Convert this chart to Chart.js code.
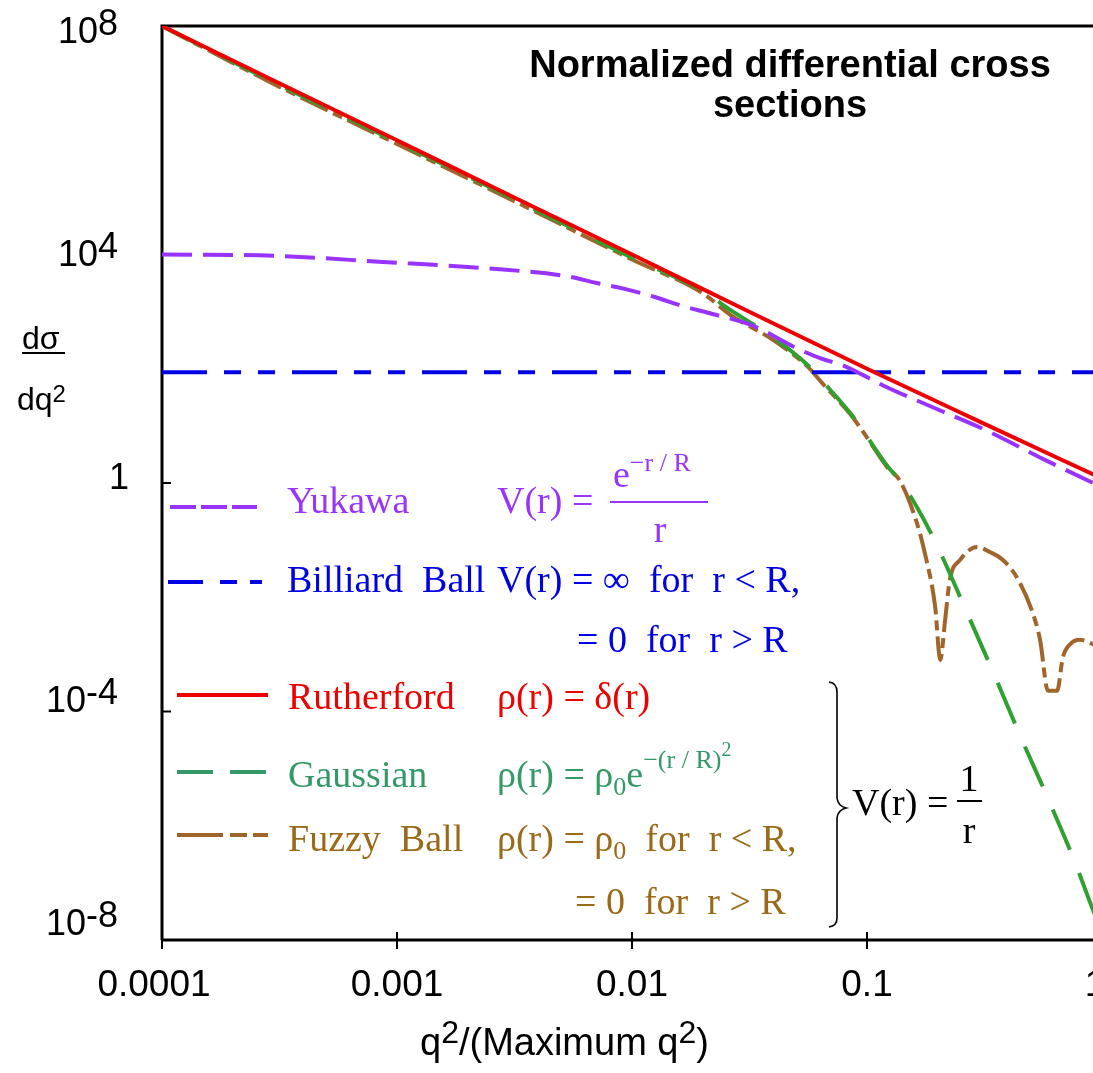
<!DOCTYPE html>
<html>
<head>
<meta charset="utf-8">
<title>Normalized differential cross sections</title>
<script src="https://cdn.jsdelivr.net/npm/chart.js@4.4.1/dist/chart.umd.min.js"></script>
<style>
  html, body { margin: 0; padding: 0; background: #fff; overflow: hidden; }
  canvas { display: block; }
</style>
</head>
<body>
<canvas id="chart" width="1120" height="1073"></canvas>
<script>
// x = q^2 / (maximum q^2), y = normalized d(sigma)/dq^2, both on log axes
const rutherfordX = [1e-4, 3e-4, 1e-3, 3e-3, 1e-2, 3e-2, 0.1, 0.3, 1];
const rutherfordY = [1e8, 1.1e7, 1.0e6, 1.1e5, 1.0e4, 1.1e3, 100, 12, 1.2];

const yukawaX = [1e-4, 3e-4, 8.7e-4, 2.3e-3, 5.4e-3, 7e-3, 9.3e-3, 1.25e-2, 1.63e-2, 2.2e-2,
  3.3e-2, 4.9e-2, 6.4e-2, 7.9e-2, 0.117, 0.205, 0.333, 0.545, 0.917, 1];
const yukawaY = [1.0e4, 9.5e3, 7.4e3, 5.8e3, 4.1e3, 3.2e3, 2.5e3, 1.8e3, 1.26e3, 910,
  560, 240, 150, 115, 51, 18.6, 7.8, 2.8, 1.0, 0.85];

const billiardX = [1e-4, 1];
const billiardY = [87, 87];

const gaussX = [1e-4, 3e-4, 1e-3, 3e-3, 1e-2, 2e-2, 2.62e-2, 3.98e-2, 5.6e-2, 6.5e-2, 8.5e-2, 9.6e-2,
  0.123, 0.138, 0.163, 0.2, 0.261, 0.344, 0.448, 0.589, 0.767, 0.917, 1];
const gaussY = [1e8, 1.03e7, 9.3e5, 1.03e5, 8.8e3, 2.3e3, 1.07e3, 355, 115, 59, 16.6, 8.3,
  1.9, 1.1, 0.38, 0.076, 6.5e-3, 4.9e-4, 3.8e-5, 3.0e-6, 2.3e-7, 3.3e-8, 1.4e-8];

const fuzzyX = [1e-4, 3e-4, 1e-3, 3e-3, 1e-2, 2e-2, 2.62e-2, 3.98e-2, 5.6e-2, 6.5e-2, 8.5e-2, 9.6e-2,
  0.123, 0.138, 0.163, 0.177, 0.195, 0.205, 0.215, 0.225, 0.249, 0.294,
  0.333, 0.379, 0.435, 0.508, 0.545, 0.589, 0.644, 0.682, 0.731, 0.805, 0.917, 1];
const fuzzyY = [1e8, 9.6e6, 8.6e5, 9.5e4, 8.2e3, 2.1e3, 880, 320, 108, 54, 16, 8,
  1.8, 1.1, 0.2, 0.055, 6.8e-3, 8e-4, 4e-3, 0.02, 0.045, 0.076,
  0.062, 0.045, 0.022, 5.2e-3, 1.8e-3, 2.3e-4, 2.3e-4, 9e-4, 1.5e-3, 1.8e-3, 1.5e-3, 1.2e-3];

const xTickValues = [1e-4, 1e-3, 1e-2, 0.1, 1];
const xTickLabels = ['0.0001', '0.001', '0.01', '0.1', '1'];
const yTickValues = [1e8, 1e4, 1, 1e-4, 1e-8];

const SANS = '"Liberation Sans", Arial, sans-serif';
const SERIF = '"Liberation Serif", "Times New Roman", serif';

const PURPLE = '#9933ff';
const BLUE = '#0000e6';
const RED = '#ee0000';
const GREEN_LINE = '#30a030';
const GREEN_TEXT = '#339966';
const BROWN_LINE = '#a0652a';
const BROWN_TEXT = '#9a6a18';

function series(label, xs, ys, color, dash, order) {
  return {
    label,
    data: xs.map((x, i) => ({ x, y: ys[i] })),
    borderColor: color,
    borderDash: dash,
    borderWidth: 4,
    pointRadius: 0,
    fill: false,
    cubicInterpolationMode: 'monotone',
    order,
  };
}

// draws a run of text pieces: [text, font, dy]
function drawParts(ctx, x, y, parts, align) {
  let total = 0;
  parts.forEach(p => { ctx.font = p[1]; total += ctx.measureText(p[0]).width; });
  let cx = align === 'right' ? x - total : align === 'center' ? x - total / 2 : x;
  parts.forEach(p => {
    ctx.font = p[1];
    ctx.fillText(p[0], cx, y + (p[2] || 0));
    cx += ctx.measureText(p[0]).width;
  });
}

function sample(ctx, x1, x2, y, color, dash) {
  ctx.save();
  ctx.strokeStyle = color;
  ctx.lineWidth = 4;
  ctx.setLineDash(dash);
  ctx.beginPath();
  ctx.moveTo(x1, y);
  ctx.lineTo(x2, y);
  ctx.stroke();
  ctx.restore();
}

const framePlugin = {
  id: 'frame',
  beforeDatasetsDraw(chart) {
    const { ctx, chartArea: a, scales } = chart;
    ctx.save();
    ctx.strokeStyle = '#000';
    ctx.lineWidth = 3;
    ctx.beginPath();
    ctx.moveTo(a.left, a.bottom);
    ctx.lineTo(a.left, a.top);
    ctx.lineTo(a.right + 10, a.top);
    ctx.moveTo(a.left, a.bottom);
    ctx.lineTo(a.right + 10, a.bottom);
    ctx.stroke();

    ctx.lineWidth = 2;
    ctx.fillStyle = '#000';
    ctx.textBaseline = 'alphabetic';
    ctx.textAlign = 'left';
    const TF = '36px ' + SANS;
    yTickValues.forEach((v, i) => {
      const py = scales.y.getPixelForValue(v);
      ctx.beginPath();
      ctx.moveTo(a.left, py);
      ctx.lineTo(a.left + 9, py);
      ctx.stroke();
      const e = Math.round(Math.log10(v));
      // labels sit a little above their ticks towards the bottom of the axis
      const base = py + 17 - 5.5 * i;
      if (e === 0) {
        drawParts(ctx, 129, base, [['1', TF]], 'right');
      } else {
        drawParts(ctx, 118, base, [['10', TF], [String(e), TF, -8]], 'right');
      }
    });
    xTickValues.forEach((v, i) => {
      const px = scales.x.getPixelForValue(v);
      ctx.beginPath();
      ctx.moveTo(px, i === 0 ? a.bottom : a.bottom - 8);
      ctx.lineTo(px, a.bottom + 9);
      ctx.stroke();
      ctx.font = '37px ' + SANS;
      ctx.textAlign = 'center';
      const shift = i === 0 ? -8 : i === xTickLabels.length - 1 ? -7 : 0;
      ctx.fillText(xTickLabels[i], px + shift, 996);
      ctx.textAlign = 'left';
    });
    ctx.restore();
  },
  afterDatasetsDraw(chart) {
    const { ctx } = chart;
    ctx.save();
    ctx.textBaseline = 'alphabetic';

    // title
    ctx.fillStyle = '#000';
    ctx.textAlign = 'center';
    ctx.font = 'bold 38px ' + SANS;
    ctx.fillText('Normalized differential cross', 790, 77);
    ctx.fillText('sections', 790, 117);
    ctx.textAlign = 'left';

    // axis titles
    ctx.font = '32px ' + SANS;
    ctx.fillText('d\u03c3', 22, 349);
    ctx.fillRect(22, 352, 43, 2);
    drawParts(ctx, 17, 410, [['dq', '32px ' + SANS], ['2', '24px ' + SANS, -8]], 'left');
    drawParts(ctx, 420, 1055, [['q', '38px ' + SANS], ['2', '32px ' + SANS, -12],
      ['/(Maximum q', '38px ' + SANS], ['2', '32px ' + SANS, -12], [')', '38px ' + SANS]], 'left');

    const F = '38px ' + SERIF;
    const FS = '26px ' + SERIF;

    // Yukawa
    sample(ctx, 170, 257, 507, PURPLE, [26, 5]);
    ctx.fillStyle = PURPLE;
    ctx.font = F;
    ctx.fillText('Yukawa', 287, 513);
    ctx.fillText('V(r) =', 497, 513);
    drawParts(ctx, 613, 487, [['e', F], ['\u2212r / R', FS, -16]], 'left');
    ctx.fillRect(610, 501, 98, 2);
    ctx.textAlign = 'center';
    ctx.font = F;
    ctx.fillText('r', 660, 542);
    ctx.textAlign = 'left';

    // Billiard ball
    sample(ctx, 168, 262, 582, BLUE, [35, 17, 17, 13, 12, 100]);
    ctx.fillStyle = BLUE;
    ctx.font = F;
    ctx.fillText('Billiard  Ball', 287, 592);
    ctx.fillText('V(r) = \u221e  for  r < R,', 497, 592);
    ctx.fillText('= 0  for  r > R', 577, 652);

    // Rutherford
    sample(ctx, 177, 268, 695, RED, []);
    ctx.fillStyle = RED;
    ctx.fillText('Rutherford', 288, 709);
    ctx.fillText('\u03c1(r) = \u03b4(r)', 497, 709);

    // Gaussian
    sample(ctx, 177, 268, 772, GREEN_TEXT, [36, 17]);
    ctx.fillStyle = GREEN_TEXT;
    ctx.fillText('Gaussian', 288, 787);
    drawParts(ctx, 497, 787, [['\u03c1(r) = \u03c1', F], ['0', FS, 8], ['e', F],
      ['\u2212(r / R)', FS, -19], ['2', '20px ' + SERIF, -31]], 'left');

    // Fuzzy ball
    sample(ctx, 177, 268, 835, BROWN_LINE, [46, 7, 17, 6, 15, 100]);
    ctx.fillStyle = BROWN_TEXT;
    ctx.font = F;
    ctx.fillText('Fuzzy  Ball', 288, 851);
    drawParts(ctx, 497, 851, [['\u03c1(r) = \u03c1', F], ['0', FS, 8], ['  for  r < R,', F]], 'left');
    ctx.font = F;
    ctx.fillText('= 0  for  r > R', 575, 914);

    // brace and V(r) = 1/r
    ctx.strokeStyle = '#000';
    ctx.lineWidth = 1.6;
    ctx.beginPath();
    ctx.moveTo(829, 682);
    ctx.quadraticCurveTo(837, 683, 837, 692);
    ctx.lineTo(837, 798);
    ctx.quadraticCurveTo(838, 806, 846, 808);
    ctx.quadraticCurveTo(838, 810, 837, 818);
    ctx.lineTo(837, 918);
    ctx.quadraticCurveTo(837, 926, 829, 927);
    ctx.stroke();
    ctx.fillStyle = '#000';
    ctx.font = F;
    ctx.fillText('V(r) =', 852, 815);
    ctx.textAlign = 'center';
    ctx.fillText('1', 969, 791);
    ctx.fillText('r', 969, 843);
    ctx.fillRect(957, 800, 25, 2);
    ctx.restore();
  },
};

new Chart(document.getElementById('chart'), {
  type: 'line',
  data: {
    datasets: [
      series('Rutherford', rutherfordX, rutherfordY, RED, [], 0),
      series('Yukawa', yukawaX, yukawaY, PURPLE, [30, 11], 1),
      series('Billiard Ball', billiardX, billiardY, BLUE, [45, 17, 17, 17, 17, 17], 2),
      series('Gaussian', gaussX, gaussY, GREEN_LINE, [44, 25], 3),
      series('Fuzzy Ball', fuzzyX, fuzzyY, BROWN_LINE, [30, 6, 10, 6], 4),
    ],
  },
  options: {
    responsive: false,
    animation: false,
    layout: { padding: { top: 26, right: 18, left: 0, bottom: 0 } },
    plugins: { legend: { display: false }, tooltip: { enabled: false } },
    scales: {
      x: {
        type: 'logarithmic', min: 1e-4, max: 1,
        ticks: { display: false }, grid: { display: false }, border: { display: false },
        afterFit: s => { s.height = 133; },
      },
      y: {
        type: 'logarithmic', min: 1e-8, max: 1e8,
        ticks: { display: false }, grid: { display: false }, border: { display: false },
        afterFit: s => { s.width = 162; },
      },
    },
  },
  plugins: [framePlugin],
});
</script>
</body>
</html>
